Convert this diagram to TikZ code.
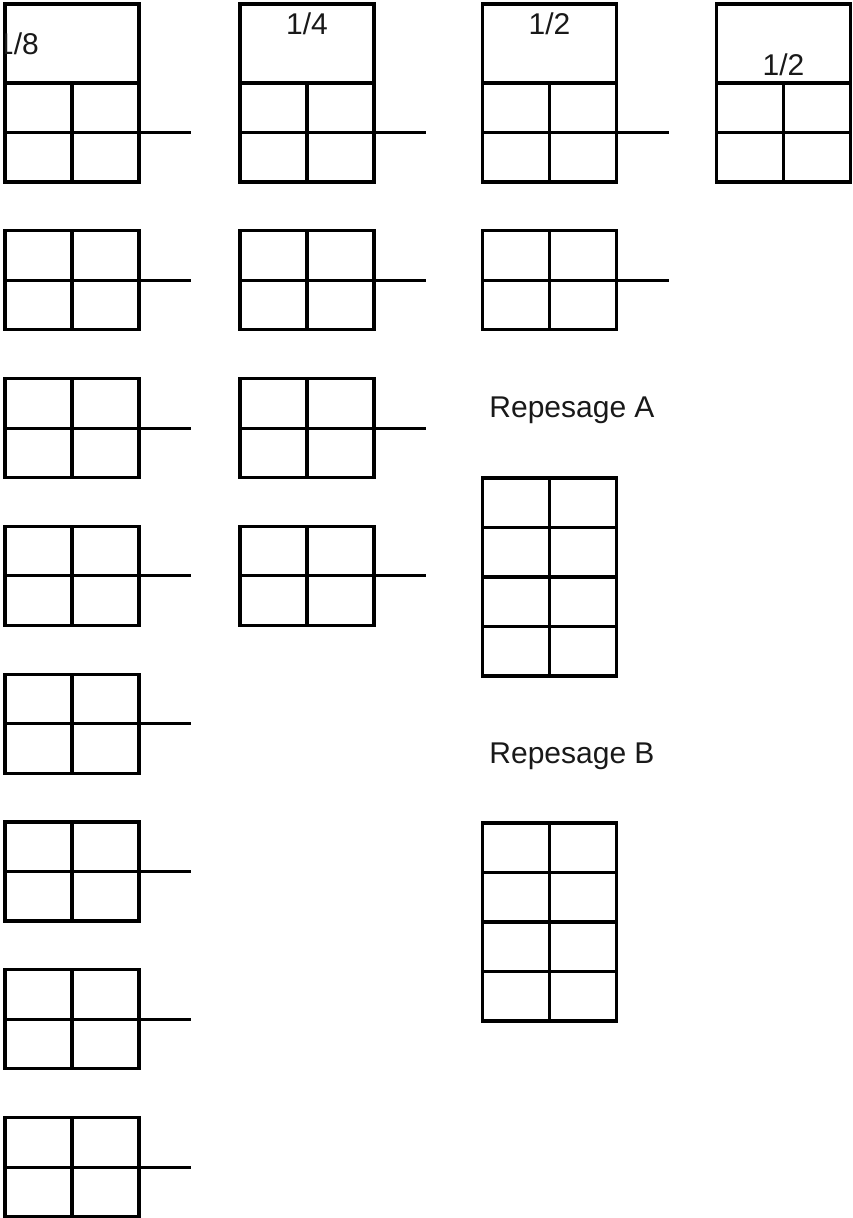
\documentclass[tikz,border=0pt]{standalone}
\usepackage{fontspec}
\setmainfont{Liberation Sans}
\usetikzlibrary{positioning,calc}

\begin{document}
\begin{tikzpicture}[
    x=1pt, y=-1pt,
    node distance=48.8pt and 0pt,
    grid/.style={draw, line width=3.1pt, outer sep=0pt, inner sep=0pt, minimum width=134pt, minimum height=99pt,
        path picture={\draw[line width=3.1pt] (path picture bounding box.north) -- (path picture bounding box.south)
            (path picture bounding box.west) -- (path picture bounding box.east);}},
    head/.style={draw, line width=3.1pt, outer sep=0pt, inner sep=0pt, minimum width=134pt, minimum height=79pt},
    frac/.style={inner sep=0pt, font=\fontsize{30}{36}\selectfont, text=black!90},
    stub/.style={line width=3.1pt}
]
\useasboundingbox (0,0) rectangle (852,1218);

% First column
\node[grid] (g1a) at (72,132.5) {};
\node[head, above=0pt of g1a] (h1) {};
\node[grid, below=of g1a] (g1b) {};
\node[grid, below=of g1b] (g1c) {};
\node[grid, below=of g1c] (g1d) {};
\node[grid, below=of g1d] (g1e) {};
\node[grid, below=of g1e] (g1f) {};
\node[grid, below=of g1f] (g1g) {};
\node[grid, below=of g1g] (g1h) {};

% Second column
\node[grid] (g2a) at (307,132.5) {};
\node[head, above=0pt of g2a] (h2) {};
\node[grid, below=of g2a] (g2b) {};
\node[grid, below=of g2b] (g2c) {};
\node[grid, below=of g2c] (g2d) {};

% Third column
\node[grid] (g3a) at (549.5,132.5) {};
\node[head, above=0pt of g3a] (h3) {};
\node[grid, below=of g3a] (g3b) {};

% Fourth column
\node[grid] (g4a) at (783.5,132.5) {};
\node[head, above=0pt of g4a] (h4) {};

% Header labels
\begin{scope}
  \clip (h1.south west) rectangle (h1.north east);
  \node[frac, anchor=base west] (l1) at ($(h1.south west)+(-8,-29)$) {1/8};
\end{scope}
\node[frac, anchor=base] (l2) at ($(h2.north)+(0,30)$) {1/4};
\node[frac, anchor=base] (l3) at ($(h3.north)+(0,30)$) {1/2};
\node[frac, anchor=base] (l4) at ($(h4.south)+(0,-8)$) {1/2};

% Repesages
\node[grid] (rA1) at (549.5,527.5) {};
\node[grid, below=0pt of rA1] (rA2) {};
\node[frac, anchor=base] (repA) at ($(rA1.north)+(22.5,-61)$) {Repesage A};

\node[grid] (rB1) at (549.5,872.5) {};
\node[grid, below=0pt of rB1] (rB2) {};
\node[frac, anchor=base] (repB) at ($(rB1.north)+(22.5,-60)$) {Repesage B};

% Stubs
\foreach \g in {g1a,g1b,g1c,g1d,g1e,g1f,g1g,g1h,g2a,g2b,g2c,g2d,g3a,g3b} {
  \coordinate[right=52pt of \g] (\g-end);
  \draw[stub] (\g.east) -- (\g-end);
}

\end{tikzpicture}
\end{document}
